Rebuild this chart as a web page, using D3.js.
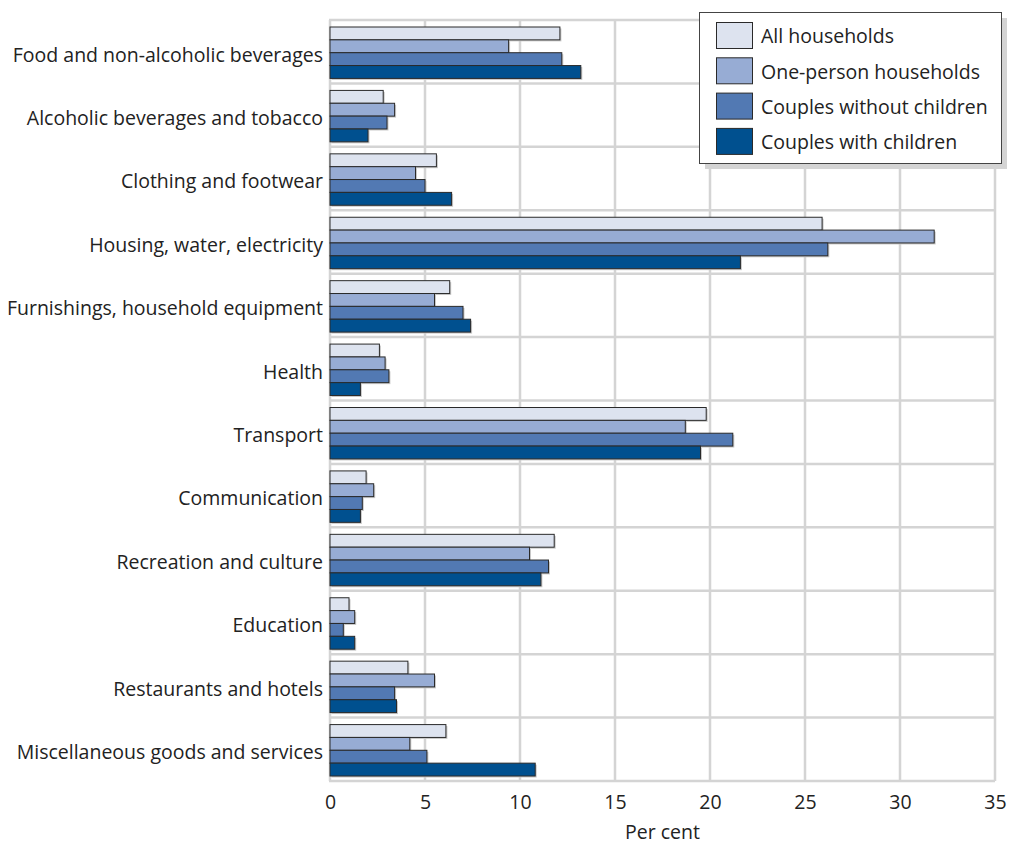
<!DOCTYPE html>
<html><head><meta charset="utf-8">
<script src="https://cdn.jsdelivr.net/npm/d3@7"></script>
<style>body{margin:0;background:#fff;} svg{display:block;} text{font-family:"Open Sans",sans-serif;fill:#222;}</style>
</head><body><svg id="c" width="1009" height="845"></svg>
<script>
const categories = ["Food and non-alcoholic beverages","Alcoholic beverages and tobacco","Clothing and footwear","Housing, water, electricity","Furnishings, household equipment","Health","Transport","Communication","Recreation and culture","Education","Restaurants and hotels","Miscellaneous goods and services"];
const seriesNames = ["All households","One-person households","Couples without children","Couples with children"];
const allHouseholds    = [12.1, 2.8, 5.6, 25.9, 6.3, 2.6, 19.8, 1.9, 11.8, 1.0, 4.1, 6.1];
const onePerson        = [9.4, 3.4, 4.5, 31.8, 5.5, 2.9, 18.7, 2.3, 10.5, 1.3, 5.5, 4.2];
const couplesNoKids    = [12.2, 3.0, 5.0, 26.2, 7.0, 3.1, 21.2, 1.7, 11.5, 0.7, 3.4, 5.1];
const couplesWithKids  = [13.2, 2.0, 6.4, 21.6, 7.4, 1.6, 19.5, 1.6, 11.1, 1.3, 3.5, 10.8];
const xTicks = [0,5,10,15,20,25,30,35];
const colors = ["#dde3ef","#97acd4","#5279b3","#00508f"];
const series = [allHouseholds, onePerson, couplesNoKids, couplesWithKids];

const FS = 19.5;
const svg = d3.select("#c");
const L = 330, R = 995, T = 20, B = 781;
const x = d3.scaleLinear().domain([0,35]).range([L,R]);
const y = d3.scaleBand().domain(categories).range([T,B]);
const inner = d3.scaleBand().domain(d3.range(4)).range([7, y.bandwidth()-5]);

const grid = svg.append("g");
grid.selectAll("line.v").data(xTicks).join("line")
  .attr("x1",d=>x(d)).attr("x2",d=>x(d)).attr("y1",T).attr("y2",B)
  .attr("stroke","#d4d4d4").attr("stroke-width",2.5);
const hb = categories.map(c=>y(c)).concat([B]);
grid.selectAll("line.h").data(hb).join("line")
  .attr("x1",L-1).attr("x2",R).attr("y1",d=>d).attr("y2",d=>d)
  .attr("stroke","#d4d4d4").attr("stroke-width",2.5);

const bars = svg.append("g");
series.forEach((vals,si)=>{
  bars.selectAll("rect.s"+si).data(vals).join("rect")
    .attr("x",x(0)+1.5).attr("y",(d,i)=>y(categories[i])+inner(si)+1.5)
    .attr("width",d=>x(d)-x(0)).attr("height",inner.bandwidth())
    .attr("fill","#c8c8c8");
  bars.selectAll("rect.b"+si).data(vals).join("rect")
    .attr("x",x(0)).attr("y",(d,i)=>y(categories[i])+inner(si))
    .attr("width",d=>x(d)-x(0)).attr("height",inner.bandwidth())
    .attr("fill",colors[si]).attr("stroke","#2a2a2a").attr("stroke-width",1);
});

// category labels
svg.append("g").selectAll("text").data(categories).join("text")
  .attr("x",L-7).attr("y",d=>y(d)+y.bandwidth()/2+3).attr("dy","0.35em")
  .attr("text-anchor","end").attr("font-size",FS).text(d=>d);

// x axis
const xa = svg.append("g").attr("transform",`translate(0,${B})`)
  .call(d3.axisBottom(x).tickValues(xTicks).tickSize(0).tickPadding(14));
xa.select(".domain").remove();
xa.selectAll("text").attr("font-size",FS).attr("fill","#222").style("font-family","'Open Sans',sans-serif");
svg.append("text").attr("x",(L+R)/2).attr("y",839).attr("text-anchor","middle").attr("font-size",FS).text("Per cent");

// legend
const lg = svg.append("g");
lg.append("rect").attr("x",705).attr("y",18).attr("width",302).attr("height",151).attr("fill","#d4d4d4");
lg.append("rect").attr("x",699.5).attr("y",12.5).attr("width",302).attr("height",151).attr("fill","#fff").attr("stroke","#444").attr("stroke-width",1);
seriesNames.forEach((n,i)=>{
  lg.append("rect").attr("x",716.5).attr("y",22.5+i*35.3).attr("width",36).attr("height",26)
    .attr("fill",colors[i]).attr("stroke","#2a2a2a").attr("stroke-width",1);
  lg.append("text").attr("x",761).attr("y",36.5+i*35.3).attr("dy","0.35em").attr("font-size",FS).text(n);
});
</script></body></html>
